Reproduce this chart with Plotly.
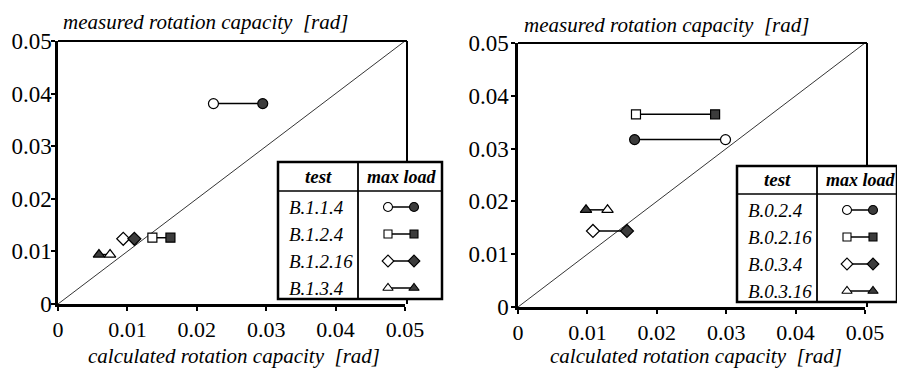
import plotly.graph_objects as go

W, H = 897, 368

# ---------------- data ----------------
symbols = ["circle", "square", "diamond", "triangle-up"]

tests_left = ["B.1.1.4", "B.1.2.4", "B.1.2.16", "B.1.3.4"]
calc_open_left = [0.0224, 0.0136, 0.0094, 0.0075]
calc_max_left = [0.0295, 0.0162, 0.0110, 0.0059]
meas_left = [0.0381, 0.0126, 0.0124, 0.0094]

tests_right = ["B.0.2.4", "B.0.2.16", "B.0.3.4", "B.0.3.16"]
calc_open_right = [0.0299, 0.0170, 0.0108, 0.0129]
calc_max_right = [0.0168, 0.0284, 0.0157, 0.0098]
meas_right = [0.0317, 0.0365, 0.0144, 0.0184]

tick_vals = [0, 0.01, 0.02, 0.03, 0.04, 0.05]
tick_text = ["0", "0.01", "0.02", "0.03", "0.04", "0.05"]

x_title = "calculated rotation capacity&nbsp; [rad]"
y_title = "measured rotation capacity&nbsp; [rad]"
head_test = "test"
head_load = "max load"

FONT = "Liberation Serif, Times New Roman, serif"
FILL = "#3c3c3c"

# ---------------- layout geometry (pixels) ----------------
panels = [
    dict(xa="x", ya="y", plot=(58, 41, 405, 304), standoff=-5,
         table=dict(left=278, top=162, right=442, bottom=299, col=358, head=191),
         tests=tests_left, co=calc_open_left, cm=calc_max_left, m=meas_left,
         ytitle=(205, 22), xtitle=(234, 356)),
    dict(xa="x2", ya="y2", plot=(518, 43, 865, 307), standoff=-2,
         table=dict(left=737, top=166, right=897, bottom=302, col=817, head=194),
         tests=tests_right, co=calc_open_right, cm=calc_max_right, m=meas_right,
         ytitle=(666, 25), xtitle=(696, 356)),
]


def px(x):
    return x / W


def py(y):
    return 1 - y / H


fig = go.Figure()
shapes = []
annotations = []

for i, p in enumerate(panels):
    l, t, r, b = p["plot"]
    xa, ya = p["xa"], p["ya"]
    xkey = "xaxis" if i == 0 else "xaxis2"
    ykey = "yaxis" if i == 0 else "yaxis2"

    # diagonal
    fig.add_trace(go.Scatter(x=[0, 0.05], y=[0, 0.05], mode="lines",
                             line=dict(color="black", width=0.8),
                             xaxis=xa, yaxis=ya, showlegend=False, hoverinfo="skip",
                             cliponaxis=False))
    # data pairs
    for k in range(len(p["tests"])):
        fig.add_trace(go.Scatter(
            x=[p["co"][k], p["cm"][k]], y=[p["m"][k], p["m"][k]],
            mode="lines+markers",
            line=dict(color="black", width=1.5),
            marker=dict(symbol=symbols[k], size=10 if symbols[k] != "square" else 9,
                        color=["white", FILL], line=dict(color="black", width=1.2)),
            xaxis=xa, yaxis=ya, showlegend=False, name=p["tests"][k],
            cliponaxis=False))

    axis_common = dict(range=[0, 0.05], tickvals=tick_vals, ticktext=tick_text,
                       showgrid=False, zeroline=False, showline=True,
                       linecolor="black", linewidth=2.5, ticks="outside",
                       ticklen=4, tickwidth=2, tickcolor="black", automargin=False)
    fig.update_layout(**{
        xkey: dict(axis_common, domain=[px(l), px(r)], anchor=ya,
                   tickfont=dict(family=FONT, size=22, color="black")),
        ykey: dict(axis_common, domain=[py(b), py(t)], anchor=xa,
                   ticklabelstandoff=p["standoff"],
                   tickfont=dict(family=FONT, size=23, color="black")),
    })

    # top & right frame lines (below table)
    shapes.append(dict(type="line", xref="paper", yref="paper", layer="below",
                       x0=px(l), x1=px(r + 2), y0=py(t), y1=py(t),
                       line=dict(color="black", width=2)))
    shapes.append(dict(type="line", xref="paper", yref="paper", layer="below",
                       x0=px(r + 2), x1=px(r + 2), y0=py(t), y1=py(b),
                       line=dict(color="black", width=2)))

    # axis titles
    annotations.append(dict(text=y_title, x=px(p["ytitle"][0]), y=py(p["ytitle"][1]),
                            xref="paper", yref="paper", showarrow=False,
                            xanchor="center", yanchor="middle",
                            font=dict(family=FONT, size=21, color="black", style="italic")))
    annotations.append(dict(text=x_title, x=px(p["xtitle"][0]), y=py(p["xtitle"][1]),
                            xref="paper", yref="paper", showarrow=False,
                            xanchor="center", yanchor="middle",
                            font=dict(family=FONT, size=21, color="black", style="italic")))

# tables drawn after frames
for i, p in enumerate(panels):
    tb = p["table"]
    shapes.append(dict(type="rect", xref="paper", yref="paper", layer="below",
                       x0=px(tb["left"]), x1=px(tb["right"]),
                       y0=py(tb["bottom"]), y1=py(tb["top"]),
                       fillcolor="white", line=dict(color="black", width=2.5)))
    shapes.append(dict(type="line", xref="paper", yref="paper", layer="below",
                       x0=px(tb["col"]), x1=px(tb["col"]),
                       y0=py(tb["bottom"]), y1=py(tb["top"]),
                       line=dict(color="black", width=1.8)))
    shapes.append(dict(type="line", xref="paper", yref="paper", layer="below",
                       x0=px(tb["left"]), x1=px(tb["right"]),
                       y0=py(tb["head"]), y1=py(tb["head"]),
                       line=dict(color="black", width=1.5)))
    hy = (tb["top"] + tb["head"]) / 2
    annotations.append(dict(text="<b><i>%s</i></b>" % head_test,
                            x=px((tb["left"] + tb["col"]) / 2), y=py(hy),
                            xref="paper", yref="paper", showarrow=False,
                            xanchor="center", yanchor="middle",
                            font=dict(family=FONT, size=19, color="black")))
    annotations.append(dict(text="<b><i>%s</i></b>" % head_load,
                            x=px(tb["col"] + 44), y=py(hy),
                            xref="paper", yref="paper", showarrow=False,
                            xanchor="center", yanchor="middle",
                            font=dict(family=FONT, size=18, color="black")))
    step = (tb["bottom"] - tb["head"]) / len(p["tests"])
    for k, name in enumerate(p["tests"]):
        ry = tb["head"] + (k + 0.5) * step + 2.5
        annotations.append(dict(text="<i>%s</i>" % name, x=px(tb["left"] + 9), y=py(ry),
                                xref="paper", yref="paper", showarrow=False,
                                xanchor="left", yanchor="middle",
                                font=dict(family=FONT, size=19, color="black")))
        fig.add_trace(go.Scatter(
            x=[tb["col"] + 30, tb["col"] + 56], y=[ry, ry], mode="lines+markers",
            line=dict(color="black", width=1.5),
            marker=dict(symbol=symbols[k], size=9 if symbols[k] != "square" else 8,
                        color=["white", FILL], line=dict(color="black", width=1.1)),
            xaxis="x3", yaxis="y3", showlegend=False, hoverinfo="skip",
            cliponaxis=False))

fig.update_layout(
    width=W, height=H,
    margin=dict(l=0, r=0, t=0, b=0, pad=0, autoexpand=False),
    paper_bgcolor="white", plot_bgcolor="rgba(0,0,0,0)",
    showlegend=False,
    xaxis3=dict(domain=[0, 1], range=[0, W], visible=False, anchor="y3",
                fixedrange=True, automargin=False),
    yaxis3=dict(domain=[0, 1], range=[H, 0], visible=False, anchor="x3",
                fixedrange=True, automargin=False),
    shapes=shapes, annotations=annotations,
)

fig.write_html("out.html")
